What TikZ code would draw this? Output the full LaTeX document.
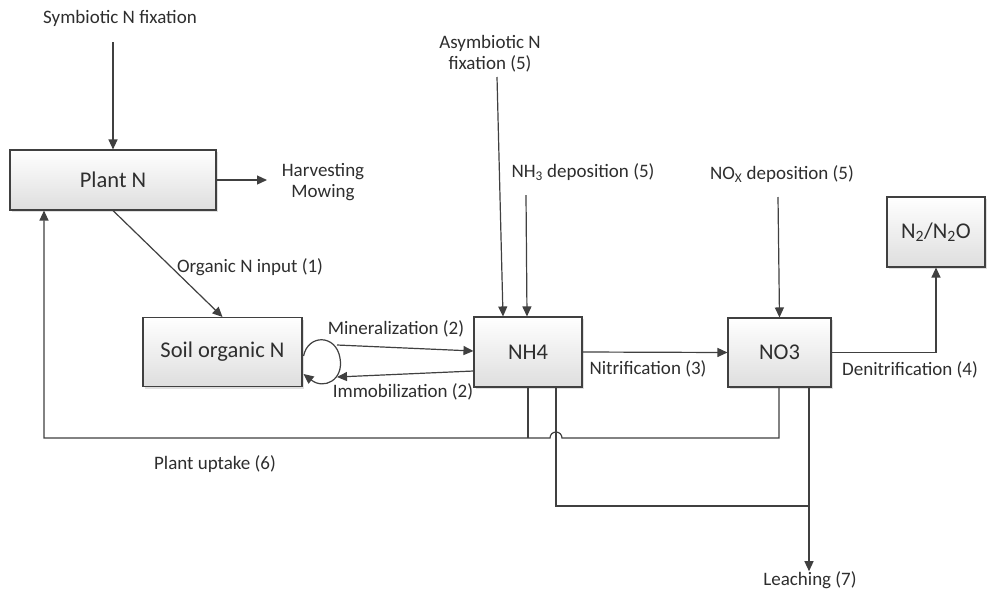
\documentclass[tikz,border=0pt]{standalone}
\usepackage{fontspec}
\setmainfont{Carlito}
\usetikzlibrary{arrows.meta,shadows,calc}
\definecolor{ln}{HTML}{404040}
\definecolor{tx}{HTML}{2E2E2E}
\begin{document}
\begin{tikzpicture}[x=1pt,y=-1pt,
  box/.style={draw=ln, line width=1.1pt, top color=white, bottom color=black!13,
    drop shadow={shadow xshift=2pt, shadow yshift=-2pt, opacity=0.25},
    font=\fontsize{22.5}{26}\selectfont, text=tx, inner sep=0pt},
  lbl/.style={font=\fontsize{19}{21}\selectfont, text=tx, inner sep=0pt, align=center},
  conn/.style={draw=ln, line width=1.2pt},
  arr/.style={conn, -{Triangle[length=10pt,width=9pt]}}]
\useasboundingbox[fill=white] (0,0) rectangle (987,595);

% boxes
\node[box, minimum width=206pt, minimum height=60pt] (plant) at (113,180) {Plant N};
\node[box, minimum width=159pt, minimum height=69pt] (soil) at (222.5,352) {Soil organic N};
\node[box, minimum width=108pt, minimum height=70pt] (nh4) at (528,352) {NH4};
\node[box, minimum width=103pt, minimum height=69pt] (no3) at (779.5,352.5) {NO3};
\node[box, minimum width=98pt, minimum height=70pt] (n2) at (936,232) {N\textsubscript{2}/N\textsubscript{2}O};

% labels
\node[lbl] (sym) at (120,18) {Symbiotic N fixation};
\node[lbl] (harv) at (323,182) {Harvesting\\Mowing};
\node[lbl] (asym) at (490,54) {Asymbiotic N\\fixation (5)};
\node[lbl] (nh3) at (583,172) {NH\textsubscript{3} deposition (5)};
\node[lbl] (nox) at (782,174) {NO\textsubscript{X} deposition (5)};
\node[lbl] (orgin) at (250,267) {Organic N input (1)};
\node[lbl] (minl) at (396,329) {Mineralization (2)};
\node[lbl] (imml) at (403,392) {Immobilization (2)};
\node[lbl] (nitl) at (648,369) {Nitrification (3)};
\node[lbl] (denl) at (910,370) {Denitrification (4)};
\node[lbl] (upl) at (215,464) {Plant uptake (6)};
\node[lbl] (leach) at (810,580) {Leaching (7)};

% helper coordinates
\coordinate (symtop) at (113,42);
\coordinate (harvend) at (267,180);
\coordinate (asymtop) at (497,77);
\coordinate (nh3top) at (526,195);
\coordinate (noxtop) at (778,197);
\coordinate (xup) at (44,0);
\coordinate (x556) at (556,0);
\coordinate (x779) at (779,0);
\coordinate (x809) at (809,0);
\coordinate (yup) at (0,438);
\coordinate (ylo) at (0,506);

% top inputs
\draw[arr] (symtop) -- (plant.north);
\draw[arr] (plant.east) -- (harvend);
\draw[arr] (asymtop) -- ($(nh4.north)+(-25,0)$);
\draw[arr] (nh3top) -- ($(nh4.north)+(-1,0)$);
\draw[arr] (noxtop) -- (no3.north);

% organic input
\draw[arr] (plant.south) -- (soil.north);

% loop and mineralization / immobilization
\draw[arr] ($(soil.east)+(1,4)$) .. controls (308,334) and (336,334) .. (340,358)
  .. controls (344,380) and (324,390) .. ($(soil.east)+(1,22)$);
\draw[arr] (337,345) -- ($(nh4.west)+(0,-1)$);
\draw[arr] ($(nh4.west)+(0,19)$) -- (337,377);

% nitrification, denitrification
\draw[arr] (nh4.east) -- (no3.west);
\draw[arr] (no3.east) -| (n2.south);

% plant uptake
\draw[arr] (no3.south -| x779) -- (x779 |- yup) -- (562,438)
  arc[start angle=0, end angle=-180, radius=6] -- (xup |- yup) -- (plant.south -| xup);
\draw[conn] (nh4.south) -- (nh4.south |- yup);

% leaching
\draw[conn] (nh4.south -| x556) -- (x556 |- ylo) -- (x809 |- ylo);
\draw[arr] (no3.south -| x809) -- (leach.north -| x809);
\end{tikzpicture}
\end{document}
